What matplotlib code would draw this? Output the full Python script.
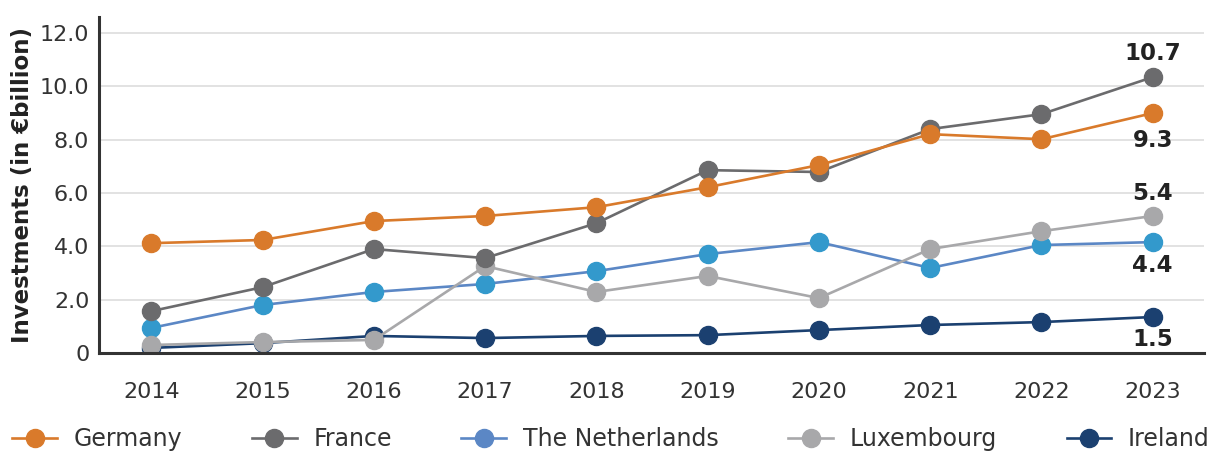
import numpy as np
import matplotlib.pyplot as plt

years = ['2014', '2015', '2016', '2017', '2018', '2019', '2020', '2021', '2022', '2023']
germany = [4.12, 4.24, 4.95, 5.14, 5.47, 6.22, 7.05, 8.21, 8.02, 9.0]
france = [1.57, 2.47, 3.9, 3.56, 4.87, 6.86, 6.79, 8.4, 8.96, 10.35]
netherlands = [0.94, 1.8, 2.29, 2.59, 3.07, 3.71, 4.16, 3.19, 4.05, 4.16]
luxembourg = [0.3, 0.41, 0.49, 3.26, 2.29, 2.89, 2.06, 3.9, 4.57, 5.14]
ireland = [0.19, 0.37, 0.64, 0.56, 0.64, 0.67, 0.86, 1.05, 1.16, 1.35]

# labels shown at 2023
end_labels = {'Germany': '9.3', 'France': '10.7', 'The Netherlands': '4.4',
              'Luxembourg': '5.4', 'Ireland': '1.5'}

plt.rcParams['font.family'] = ['DejaVu Sans']

fig = plt.figure(figsize=(12.26, 4.51), dpi=100)
ax = fig.add_axes([0.0808, 0.2173, 0.9012, 0.7447])

x = np.arange(len(years))

# (name, values, line colour, marker colour, label offset)
series = [
    ('Ireland', ireland, '#1b4070', '#1b4070', -16),
    ('The Netherlands', netherlands, '#5b87c5', '#3399cc', -17),
    ('Luxembourg', luxembourg, '#a8a8aa', '#a8a8aa', 16),
    ('France', france, '#6b6b6d', '#6b6b6d', 17),
    ('Germany', germany, '#d97a2b', '#d97a2b', -20),
]

lines = {}
for name, vals, lc, mc, off in series:
    ln, = ax.plot(x, vals, color=lc, lw=1.9, marker='o', ms=13,
                  markerfacecolor=mc, markeredgecolor=mc, label=name)
    lines[name] = ln
    ax.annotate(end_labels[name], (x[-1], vals[-1]), xytext=(0, off),
                textcoords='offset points', ha='center', va='center',
                fontsize=16.5, fontweight='bold', color='#222222')

ax.set_xlim(-0.47, 9.46)
ax.set_ylim(0, 12.6)
ax.set_xticks(x)
ax.set_xticklabels(years)
ax.set_yticks([0, 2, 4, 6, 8, 10, 12])
ax.set_yticklabels(['0', '2.0', '4.0', '6.0', '8.0', '10.0', '12.0'])
ax.tick_params(axis='both', length=0, labelsize=16, colors='#333333')
ax.tick_params(axis='x', pad=21)
ax.tick_params(axis='y', pad=7)
ax.grid(axis='y', color='#dddddd', lw=1.2)
ax.set_axisbelow(True)
for s in ['top', 'right']:
    ax.spines[s].set_visible(False)
for s in ['left', 'bottom']:
    ax.spines[s].set_color('#333333')
    ax.spines[s].set_linewidth(2.2)

ax.set_ylabel('Investments (in €billion)', fontsize=16.5, fontweight='bold',
              color='#222222', labelpad=4)

order = ['Germany', 'France', 'The Netherlands', 'Luxembourg', 'Ireland']
handles = []
for n in order:
    c = lines[n].get_color()
    h, = ax.plot([], [], color=c, lw=1.9, marker='o', ms=13)
    handles.append(h)
fig.legend(handles, order, loc='center left',
           bbox_to_anchor=(0.01, 0.027), ncol=5, frameon=False, fontsize=17,
           handlelength=1.9, handletextpad=0.7, columnspacing=2.95,
           borderaxespad=0, borderpad=0, labelcolor='#333333')

plt.savefig('out.png', dpi=100)
